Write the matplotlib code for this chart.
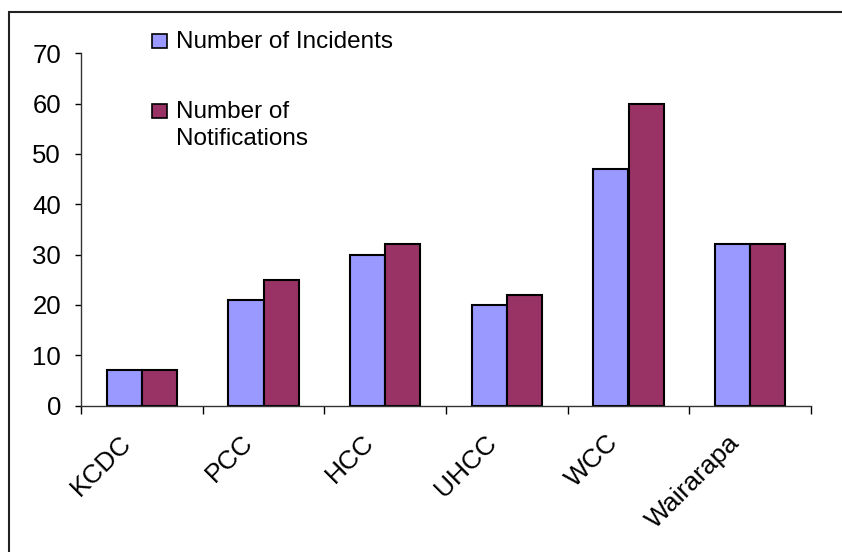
import matplotlib.pyplot as plt
import matplotlib.transforms as mtransforms
from matplotlib.patches import Rectangle
import numpy as np

plt.rcParams['font.family'] = ['Liberation Sans', 'DejaVu Sans']

# data
councils = ["KCDC", "PCC", "HCC", "UHCC", "WCC", "Wairarapa"]
incidents = [7, 21, 30, 20, 47, 32]
notifications = [7, 25, 32, 22, 60, 32]

BLUE = "#9999FF"
MAROON = "#993366"

W, H = 842, 552
fig = plt.figure(figsize=(W / 100, H / 100), dpi=100)
ax = fig.add_axes([81 / W, 1 - 405.5 / H, (811 - 81) / W, (405.5 - 53.3) / H])

x = np.arange(len(councils))
bw = 0.288
ax.bar(x - bw / 2, incidents, bw, color=BLUE, edgecolor="black", linewidth=1.5)
ax.bar(x + bw / 2, notifications, bw, color=MAROON, edgecolor="black", linewidth=1.5)

ax.set_xlim(-0.5, len(councils) - 0.5)
ax.set_ylim(0, 70)
ax.set_yticks(range(0, 71, 10))
ax.tick_params(axis="y", labelsize=18.5, length=4.3, width=1, pad=10, colors="black")

# ticks between categories, labels under the categories
ax.set_xticks(np.arange(len(councils) + 1) - 0.5)
ax.set_xticklabels([])
ax.set_xticks(x, minor=True)
ax.set_xticklabels(councils, minor=True, rotation=45, ha="right", va="top", fontsize=19)
ax.tick_params(axis="x", which="major", length=5.8, width=1, direction="out")
ax.tick_params(axis="x", which="minor", length=0, pad=18)
shift = mtransforms.ScaledTranslation(-6 / 100, 0, fig.dpi_scale_trans)
for lab in ax.get_xticklabels(minor=True):
    lab.set_transform(lab.get_transform() + shift)

for s in ["top", "right"]:
    ax.spines[s].set_visible(False)
for s in ["left", "bottom"]:
    ax.spines[s].set_color("#333333")
    ax.spines[s].set_linewidth(1)

# legend drawn by hand (second label wraps, key sits on first line)
def px(xp, yp):
    return xp / W, 1 - yp / H

for (yk, col) in [(34, BLUE), (104, MAROON)]:
    x0, y0 = px(152, yk + 14)
    fig.patches.append(Rectangle((x0, y0), 15 / W, 14 / H, transform=fig.transFigure,
                                 facecolor=col, edgecolor="black", linewidth=1.2))
fig.text(*px(176, 48), "Number of Incidents", fontsize=17.5, va="baseline")
fig.text(*px(176, 118), "Number of", fontsize=17.5, va="baseline")
fig.text(*px(176, 145), "Notifications", fontsize=17.5, va="baseline")

# outer frame
fig.patches.append(Rectangle((9 / W, -0.05), 1.0, 1 - 11.5 / H + 0.05, transform=fig.transFigure,
                             fill=False, edgecolor="#222222", linewidth=1.5))

fig.savefig("out.png", dpi=100)
